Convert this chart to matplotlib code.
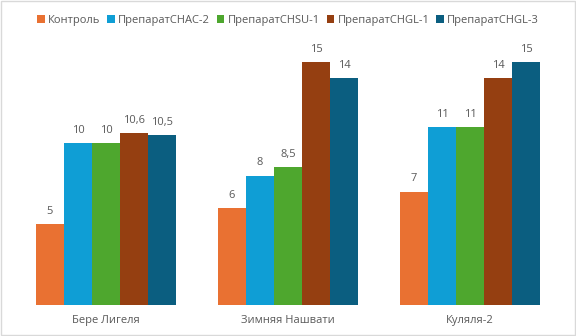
import numpy as np
import matplotlib
matplotlib.use("Agg")
import matplotlib.pyplot as plt
from matplotlib.patches import Rectangle

plt.rcParams['font.family'] = ['Open Sans', 'DejaVu Sans']

categories = ["Бере Лигеля", "Зимняя Нашвати", "Куляля-2"]
series_names = ["Контроль", "ПрепаратCHAC-2", "ПрепаратCHSU-1", "ПрепаратCHGL-1", "ПрепаратCHGL-3"]
control = [5, 6, 7]
chac2 = [10, 8, 11]
chsu1 = [10, 8.5, 11]
chgl1 = [10.6, 15, 14]
chgl3 = [10.5, 14, 15]
colors = ["#E97132", "#0F9ED5", "#4EA72E", "#953F11", "#0B5E80"]

series = [control, chac2, chsu1, chgl1, chgl3]

fig = plt.figure(figsize=(5.76, 3.36), dpi=100)
ax = fig.add_axes([15 / 576, 31 / 336, 546 / 576, 259 / 336])

x = np.arange(len(categories))
bw = 0.77 / 5
text_col = "#595959"
for i, (vals, name, c) in enumerate(zip(series, series_names, colors)):
    pos = x - 0.385 + bw * (i + 0.5)
    bars = ax.bar(pos, vals, width=bw, color=c, label=name)
    for b, v in zip(bars, vals):
        lbl = ("%g" % v).replace(".", ",")
        ax.text(b.get_x() + b.get_width() / 2, v + 0.45, lbl, ha="center", va="bottom",
                fontsize=8, color=text_col)

ax.set_xlim(-0.5, 2.5)
ax.set_ylim(0, 16)
ax.set_yticks([])
ax.set_xticks(x)
ax.set_xticklabels(categories, fontsize=8, color=text_col)
ax.tick_params(axis="x", length=0, pad=7)
for s in ax.spines.values():
    s.set_visible(False)

fig.legend(loc="upper center", bbox_to_anchor=(0.5, 0.985), ncol=5, frameon=False,
           fontsize=8, labelcolor=text_col, handlelength=0.7, handleheight=0.7,
           handletextpad=0.3, columnspacing=0.6)

fig.patches.append(Rectangle((0.001, 0.004), 0.997, 0.994, transform=fig.transFigure,
                             fill=False, edgecolor="#D9D9D9", linewidth=1))

plt.savefig("out.png", dpi=100)
